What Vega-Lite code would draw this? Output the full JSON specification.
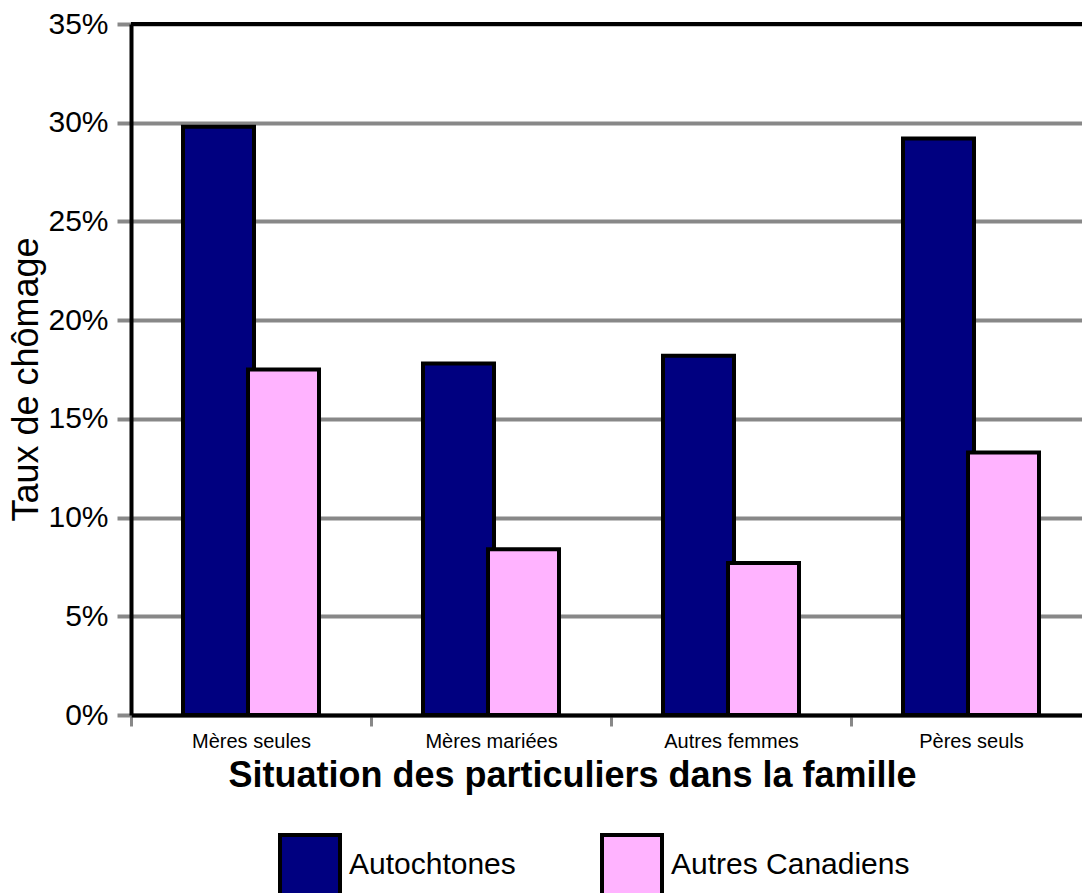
{
  "$schema": "https://vega.github.io/schema/vega-lite/v6.json",
  "width": 960,
  "height": 691,
  "autosize": {"type": "none"},
  "padding": {"left": 131, "top": 24, "right": -9, "bottom": 178},
  "background": "white",
  "config": {
    "font": "Liberation Sans",
    "view": {"stroke": null}
  },
  "data": {
    "values": [
      {"situation": "Mères seules", "groupe": "Autochtones", "taux": 29.8},
      {"situation": "Mères seules", "groupe": "Autres Canadiens", "taux": 17.5},
      {"situation": "Mères mariées", "groupe": "Autochtones", "taux": 17.8},
      {"situation": "Mères mariées", "groupe": "Autres Canadiens", "taux": 8.4},
      {"situation": "Autres femmes", "groupe": "Autochtones", "taux": 18.2},
      {"situation": "Autres femmes", "groupe": "Autres Canadiens", "taux": 7.7},
      {"situation": "Pères seuls", "groupe": "Autochtones", "taux": 29.2},
      {"situation": "Pères seuls", "groupe": "Autres Canadiens", "taux": 13.3}
    ]
  },
  "layer": [
    {
      "mark": {"type": "bar", "stroke": "black", "strokeWidth": 4, "width": 71, "strokeJoin": "miter"},
      "encoding": {
        "x": {
          "field": "situation",
          "type": "nominal",
          "sort": null,
          "scale": {"paddingInner": 0, "paddingOuter": 0},
          "axis": {
            "title": "Situation des particuliers dans la famille",
            "titleFontSize": 36,
            "titleFontWeight": "bold",
            "titleColor": "black",
            "titleX": 441,
            "titleY": 71,
            "titleAlign": "center",
            "titleBaseline": "alphabetic",
            "labelFontSize": 20,
            "labelColor": "black",
            "labelAngle": 0,
            "labelBaseline": "alphabetic",
            "labelPadding": 21,
            "tickBand": "extent",
            "tickSize": 11,
            "tickWidth": 3,
            "tickColor": "#888888",
            "domainColor": "black",
            "domainWidth": 4,
            "grid": false
          }
        },
        "xOffset": {
          "field": "groupe",
          "type": "nominal",
          "sort": null,
          "scale": {"paddingInner": 0, "paddingOuter": 0.846}
        },
        "y": {
          "field": "taux",
          "type": "quantitative",
          "scale": {"domain": [0, 35], "nice": false},
          "axis": {
            "title": "Taux de chômage",
            "titleFontSize": 36,
            "titleFontWeight": "normal",
            "titleColor": "black",
            "titleX": -94,
            "titleY": 355,
            "titleAlign": "center",
            "titleBaseline": "alphabetic",
            "titleAngle": -90,
            "values": [0, 5, 10, 15, 20, 25, 30, 35],
            "labelExpr": "datum.value + '%'",
            "labelFontSize": 30,
            "labelColor": "black",
            "labelPadding": 9,
            "tickSize": 14,
            "tickWidth": 4,
            "tickColor": "#888888",
            "grid": true,
            "gridColor": "#888888",
            "gridWidth": 4,
            "domainColor": "black",
            "domainWidth": 4
          }
        },
        "color": {
          "field": "groupe",
          "type": "nominal",
          "sort": null,
          "scale": {"domain": ["Autochtones", "Autres Canadiens"], "range": ["#000080", "#ffb3ff"]},
          "legend": {
            "title": null,
            "orient": "none",
            "direction": "horizontal",
            "legendX": 147,
            "legendY": 809,
            "symbolType": "square",
            "symbolSize": 3600,
            "symbolStrokeColor": "black",
            "symbolStrokeWidth": 4,
            "symbolOpacity": 1,
            "labelFontSize": 30,
            "labelColor": "black",
            "labelOffset": 7,
            "labelLimit": 500,
            "columnPadding": 78,
            "padding": 0
          }
        }
      }
    },
    {
      "mark": {"type": "rule", "color": "black", "strokeWidth": 4},
      "encoding": {"y": {"datum": 35}}
    }
  ]
}
